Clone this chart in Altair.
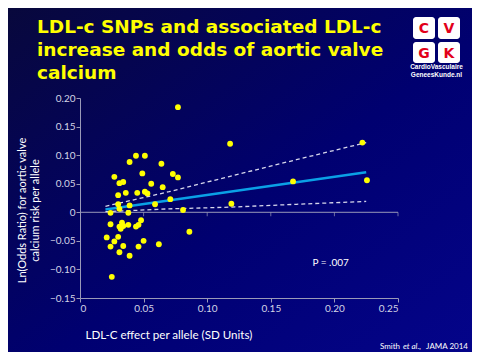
import altair as alt
import pandas as pd

# ---- data ----
ldl_effect = [0.077, 0.044, 0.051, 0.039, 0.064, 0.049, 0.073, 0.077, 0.027, 0.031,
              0.034, 0.056, 0.065, 0.036, 0.045, 0.051, 0.053, 0.030, 0.071, 0.059,
              0.030, 0.039, 0.081, 0.024, 0.038, 0.031, 0.024, 0.031, 0.033, 0.032,
              0.034, 0.038, 0.044, 0.046, 0.048, 0.021, 0.030, 0.027, 0.050, 0.024,
              0.034, 0.046, 0.062, 0.086, 0.031, 0.039, 0.025, 0.118, 0.119, 0.1675,
              0.222, 0.2256]
ln_or = [0.184, 0.099, 0.099, 0.088, 0.085, 0.068, 0.067, 0.061, 0.062, 0.051,
         0.053, 0.050, 0.044, 0.034, 0.034, 0.036, 0.033, 0.030, 0.023, 0.014,
         0.014, 0.012, 0.004, -0.001, -0.001, 0.006, -0.021, -0.025, -0.018, -0.029,
         -0.024, -0.022, -0.025, -0.022, -0.014, -0.044, -0.043, -0.051, -0.050, -0.060,
         -0.059, -0.060, -0.056, -0.034, -0.070, -0.076, -0.113, 0.120, 0.015, 0.054,
         0.122, 0.056]

fit_x = [0.02, 0.225]
fit_y = [0.005, 0.070]
ci_x = [0.02, 0.07, 0.118, 0.17, 0.225]
ci_upper = [0.0105, 0.036, 0.063, 0.092, 0.122]
ci_lower = [0.001, 0.006, 0.009, 0.014, 0.019]

x_ticks = [0, 0.05, 0.10, 0.15, 0.20, 0.25]
y_ticks = [-0.15, -0.10, -0.05, 0, 0.05, 0.10, 0.15, 0.20]

title_lines = ["LDL-c SNPs and associated LDL-c",
               "increase and odds of aortic valve",
               "calcium"]
y_title = ["Ln(Odds Ratio) for aortic valve", "calcium risk per allele"]
x_title = "LDL-C effect per allele (SD Units)"
p_label = ["P = .007"]
p_pos = [0.197, -0.089]
logo_letters = ["C", "V", "G", "K"]
logo_lines = ["CardioVasculaire", "GeneesKunde.nl"]
cite_parts = ["Smith", "et al.,", "JAMA 2014"]

# ---- frames ----
pts = pd.DataFrame({"x": ldl_effect, "y": ln_or})
fit = pd.DataFrame({"x": fit_x, "y": fit_y})
ciu = pd.DataFrame({"x": ci_x, "y": ci_upper})
cil = pd.DataFrame({"x": ci_x, "y": ci_lower})
zero = pd.DataFrame({"x": [x_ticks[0]], "x2": [x_ticks[-1]], "y": [0]})
zticks = pd.DataFrame({"x": x_ticks[1:], "y": [0] * (len(x_ticks) - 1)})
ptxt = pd.DataFrame({"x": [p_pos[0]], "y": [p_pos[1]], "t": p_label})

W, H = 318, 200
PL, PT, PR, PB = 72, 90, 74, 54

xs = alt.Scale(domain=[0, 0.25], nice=False, zero=False)
ys = alt.Scale(domain=[-0.15, 0.2], nice=False, zero=False)
label_expr = "datum.value == 0 ? '0' : format(datum.value, '.2f')"

AX = "#9a9ab8"
LAB = "#d4d4e6"
common = dict(grid=False, labelOverlap=False, domainColor=AX, tickColor=AX, tickSize=4,
              labelColor=LAB, labelFont="Lato", labelFontSize=10, titleColor="white",
              titleFont="Lato", titleFontWeight="normal", zindex=1,
              labelPadding=1, labelExpr=label_expr)

x_axis = alt.Axis(values=x_ticks, title=x_title, titleX=5, titleY=37, titleAlign="left",
                  titleBaseline="middle", titleFontSize=11.6, **common)
y_axis = alt.Axis(values=y_ticks, title=y_title, titleX=-58, titleY=112, titleAngle=270,
                  titleAlign="center", titleBaseline="middle", titleLineHeight=13,
                  titleFontSize=11, **common)


def X(field="x"):
    return alt.X(field + ":Q", scale=xs, axis=x_axis)


def Y(field="y"):
    return alt.Y(field + ":Q", scale=ys, axis=y_axis)


one = alt.Data(values=[{"a": 1}])

bg = alt.Chart(one).mark_rect(
    color={"gradient": "linear", "x1": 0, "y1": 0, "x2": 1, "y2": 1,
           "stops": [{"offset": 0, "color": "#08083c"},
                     {"offset": 0.55, "color": "#000070"},
                     {"offset": 1, "color": "#04048a"}]}
).encode(x=alt.value(-PL), x2=alt.value(W + PR), y=alt.value(-PT), y2=alt.value(H + PB))

zero_line = alt.Chart(zero).mark_rule(color=AX, strokeWidth=1).encode(
    x=X(), x2="x2:Q", y=Y())
zero_ticks = alt.Chart(zticks).mark_tick(color=AX, orient="vertical", size=4,
                                          thickness=1, yOffset=2).encode(x=X(), y=Y())

points = alt.Chart(pts).mark_circle(color="#ffff00", opacity=1, size=34).encode(x=X(), y=Y())

dash = dict(color="#d8d8ec", strokeWidth=1.3, strokeDash=[4, 3])
upper = alt.Chart(ciu).mark_line(**dash).encode(x=X(), y=Y())
lower = alt.Chart(cil).mark_line(**dash).encode(x=X(), y=Y())
fitl = alt.Chart(fit).mark_line(color="#0aa0e6", strokeWidth=2.5).encode(x=X(), y=Y())

ptext = alt.Chart(ptxt).mark_text(color="white", font="Lato", fontSize=10).encode(
    x=X(), y=Y(), text="t:N")

# slide title (text block above the plot)
title = alt.Chart(one).mark_text(text=title_lines, color="#ffff00", font="DejaVu Sans",
                                 fontWeight="bold", fontSize=18.5, align="left",
                                 baseline="alphabetic", lineHeight=23).encode(
    x=alt.value(-43), y=alt.value(-65))

# logo (decoration)
logo = []
cells = [(333, 355, -81, -59), (358, 380, -81, -59), (333, 355, -56, -35), (358, 380, -56, -35)]
for letter, (x0, x1, y0, y1) in zip(logo_letters, cells):
    logo.append(alt.Chart(one).mark_rect(color="white", cornerRadius=3).encode(
        x=alt.value(x0), x2=alt.value(x1), y=alt.value(y0), y2=alt.value(y1)))
    logo.append(alt.Chart(one).mark_text(text=letter, color="#e2001a", font="DejaVu Sans",
                                         fontWeight="bold", fontSize=14,
                                         baseline="middle").encode(
        x=alt.value((x0 + x1) / 2), y=alt.value((y0 + y1) / 2 + 1)))
for i, line in enumerate(logo_lines):
    logo.append(alt.Chart(one).mark_text(text=line, color="white", font="Liberation Sans",
                                         fontWeight="bold", fontSize=6.5,
                                         baseline="middle").encode(
        x=alt.value(356.5), y=alt.value(-31 + 8 * i)))

cite = []
cite_x = [300, 323, 388]
cite_align = ["left", "left", "right"]
cite_style = ["normal", "italic", "normal"]
for part, cx, al, st in zip(cite_parts, cite_x, cite_align, cite_style):
    cite.append(alt.Chart(one).mark_text(text=part, color="white", font="Lato",
                                         fontSize=8, fontStyle=st, align=al,
                                         baseline="middle").encode(
        x=alt.value(cx), y=alt.value(249)))

chart = alt.layer(bg, zero_line, zero_ticks, upper, lower, fitl, points, ptext,
                  title, *logo, *cite).properties(
    width=W, height=H,
    autosize=alt.AutoSizeParams(type="none"),
    padding={"left": PL, "top": PT, "right": PR, "bottom": PB},
).configure_view(stroke=None).configure(background="#00005a")

chart.save("out.html", embed_options={"renderer": "svg", "actions": False})
